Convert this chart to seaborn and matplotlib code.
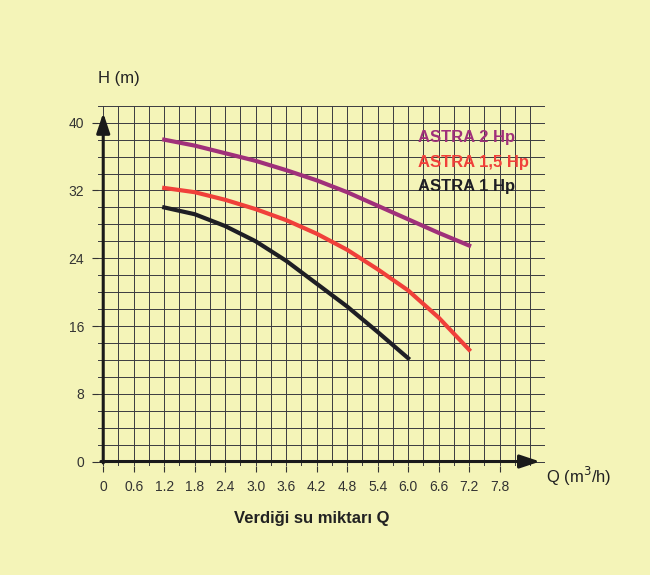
import numpy as np
import pandas as pd
import matplotlib
matplotlib.use("Agg")
import matplotlib.pyplot as plt
import seaborn as sns

q_2hp = [1.2, 1.8, 2.4, 3.0, 3.6, 4.2, 4.8, 5.4, 6.0, 6.6, 7.2]
h_2hp = [38.0, 37.3, 36.4, 35.5, 34.4, 33.2, 31.8, 30.2, 28.6, 27.0, 25.5]
q_15hp = [1.2, 1.8, 2.4, 3.0, 3.6, 4.2, 4.8, 5.4, 6.0, 6.6, 7.2]
h_15hp = [32.3, 31.8, 30.9, 29.8, 28.5, 26.9, 25.0, 22.7, 20.2, 17.0, 13.2]
q_1hp = [1.2, 1.8, 2.4, 3.0, 3.6, 4.2, 4.8, 5.4, 6.0]
h_1hp = [30.0, 29.2, 27.8, 26.0, 23.7, 21.0, 18.3, 15.3, 12.2]
series = ["ASTRA 2 Hp", "ASTRA 1,5 Hp", "ASTRA 1 Hp"]
colors = ["#a0307a", "#f0403a", "#1e1e24"]
xticks = [0, 0.6, 1.2, 1.8, 2.4, 3.0, 3.6, 4.2, 4.8, 5.4, 6.0, 6.6, 7.2, 7.8]
xticklabels = ["0", "0.6", "1.2", "1.8", "2.4", "3.0", "3.6", "4.2", "4.8", "5.4", "6.0", "6.6", "7.2", "7.8"]
yticks = [0, 8, 16, 24, 32, 40]

df = pd.concat([
    pd.DataFrame({"Q": q_2hp, "H": h_2hp, "s": series[0]}),
    pd.DataFrame({"Q": q_15hp, "H": h_15hp, "s": series[1]}),
    pd.DataFrame({"Q": q_1hp, "H": h_1hp, "s": series[2]}),
])

plt.rcParams['font.family'] = ['Liberation Sans', 'DejaVu Sans']
bg = "#f4f4b8"
fig = plt.figure(figsize=(6.5, 5.75), dpi=100, facecolor=bg)
ax = fig.add_axes([0.151, 0.19, 0.688, 0.626])
ax.set_facecolor(bg)
ax.set_xlim(-0.1, 8.7)
ax.set_ylim(-0.5, 42)

for x in np.arange(0, 8.71, 0.3):
    ax.axvline(x, color="#3a3a40", lw=0.7, zorder=1)
for y in np.arange(0, 42.1, 2):
    ax.axhline(y, color="#3a3a40", lw=0.7, zorder=1)

sns.lineplot(data=df, x="Q", y="H", hue="s", palette=colors, hue_order=series,
             lw=3, legend=False, ax=ax, zorder=3)

for s in ax.spines.values():
    s.set_visible(False)
ax.set_xticks(xticks)
ax.set_xticklabels(xticklabels)
ax.set_yticks(yticks)
ax.tick_params(length=4, labelsize=10, colors="#333333", pad=6)
ax.set_xlabel("")
ax.set_ylabel("")

ax.annotate("", xy=(8.65, 0), xytext=(-0.1, 0),
            arrowprops=dict(arrowstyle="-|>,head_length=1.2,head_width=0.4", color="#1a1a1a", lw=2.2),
            annotation_clip=False, zorder=4)
ax.annotate("", xy=(0, 41.5), xytext=(0, -0.5),
            arrowprops=dict(arrowstyle="-|>,head_length=1.2,head_width=0.4", color="#1a1a1a", lw=2.2),
            annotation_clip=False, zorder=4)

fig.text(0.15, 0.855, "H (m)", fontsize=12, color="#222222")
fig.text(0.84, 0.16, "Q (m$^3$/h)", fontsize=12, color="#222222")
fig.text(0.36, 0.09, "Verdiği su miktarı Q", fontsize=12, fontweight="bold", color="#222222")

for i, (s, c) in enumerate(zip(series, colors)):
    ax.text(6.2, 37.7 - i * 2.9, s, color=c, fontsize=12, fontweight="bold", zorder=5)

fig.savefig("out.png", dpi=100, facecolor=bg)
